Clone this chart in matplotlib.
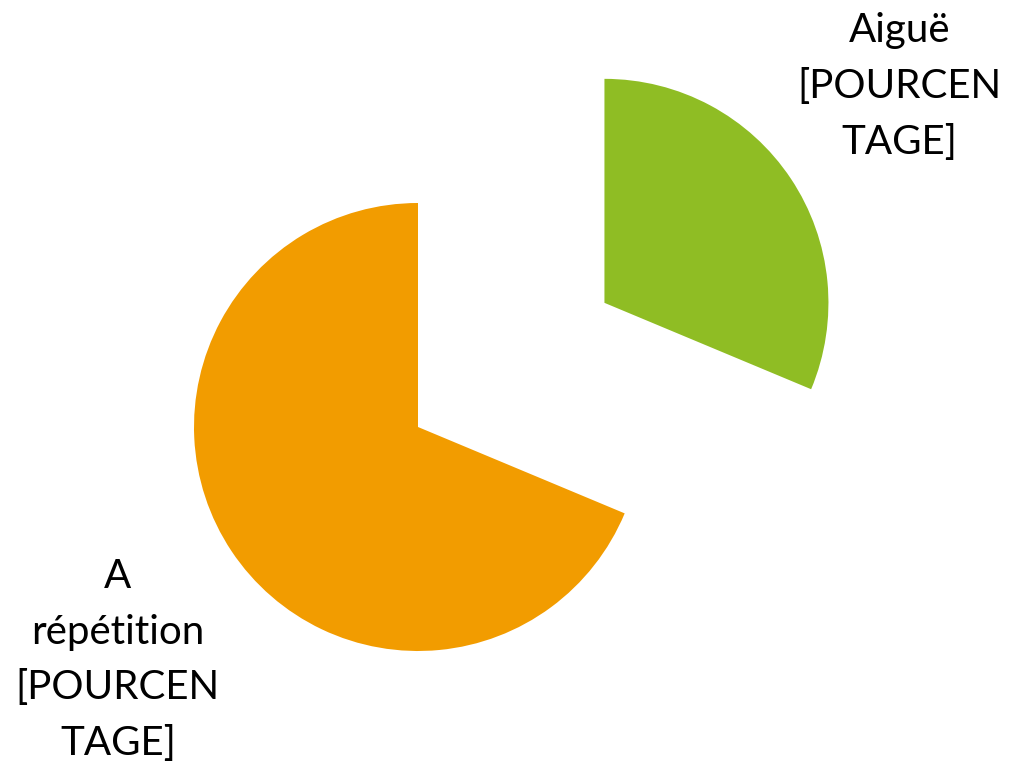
import matplotlib
matplotlib.use("Agg")
import matplotlib.pyplot as plt

labels = ["Aiguë\n[POURCEN\nTAGE]", "A\nrépétition\n[POURCEN\nTAGE]"]
values = [31.3, 68.7]
colors = ["#8FBD24", "#F29C00"]
explode = [1.0, 0.0]
# label centres in data units (pie radius = 1)
label_pos = [(2.15, 1.52), (-1.34, -1.04)]

plt.rcParams['font.family'] = ['Lato', 'DejaVu Sans']

fig = plt.figure(figsize=(10.17, 7.66), dpi=100)
ax = fig.add_axes([0, 0, 1, 1])
wedges, texts = ax.pie(values, labels=labels, colors=colors, explode=explode,
                       startangle=90, counterclock=False,
                       radius=1.0, wedgeprops=dict(linewidth=0))
for t, pos in zip(texts, label_pos):
    t.set_position(pos)
    t.set_horizontalalignment('center')
    t.set_verticalalignment('center')
    t.set_multialignment('center')
    t.set_fontsize(29)
    t.set_linespacing(1.62)
    t.set_color('black')

# centre of the main pie at (418, 427) px, radius 224 px
r = 224.0
ax.set_xlim(-418 / r, (1017 - 418) / r)
ax.set_ylim(-(766 - 427) / r, 427 / r)
ax.set_aspect('auto')
ax.axis('off')

fig.savefig("out.png", dpi=100)
